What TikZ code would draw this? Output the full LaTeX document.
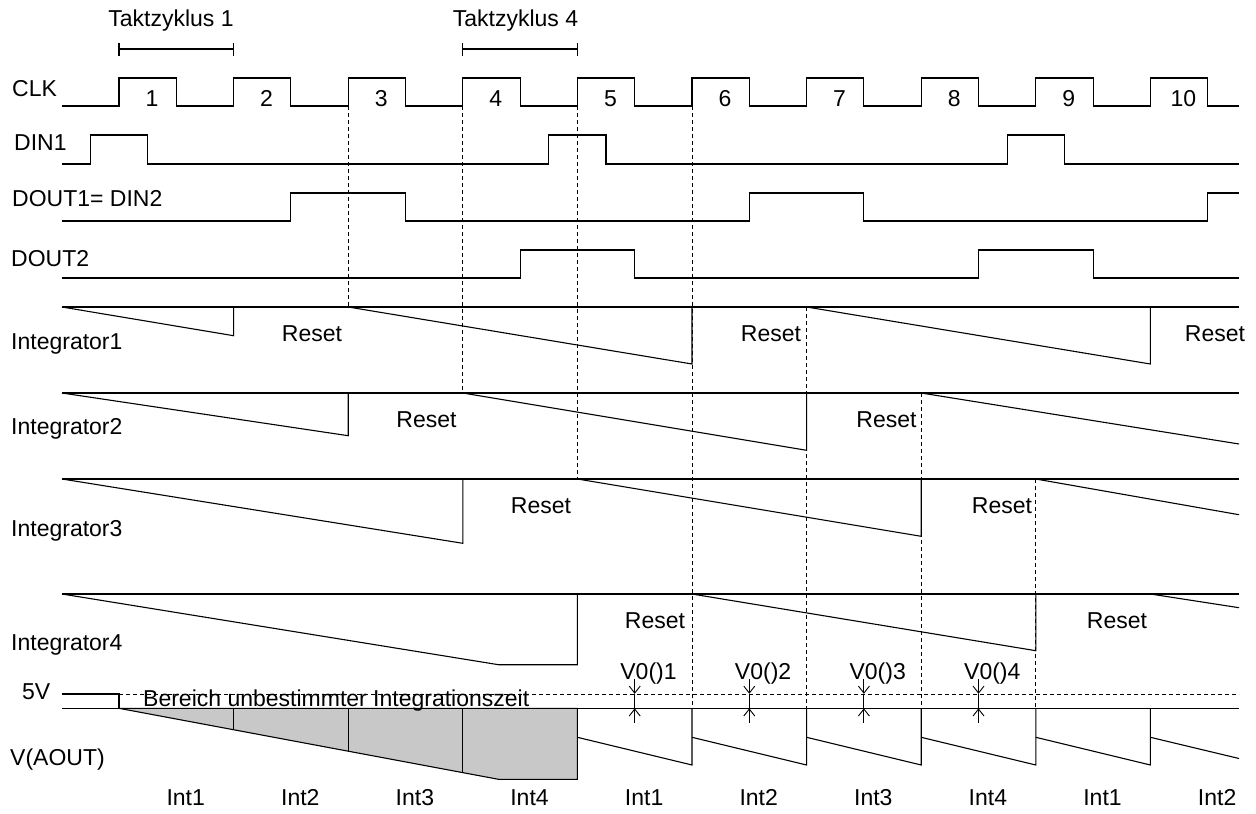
\documentclass[tikz,border=0pt]{standalone}
\usepackage{fontspec}
\setmainfont{Liberation Sans}
\usetikzlibrary{arrows.meta}
\definecolor{areagray}{RGB}{200,200,200}

\tikzset{
	txt/.style={font=\fontsize{23}{27}\selectfont, inner sep=0pt},
	sig/.style={line width=1.1pt, line join=miter},
	guide/.style={line width=0.9pt, dash pattern=on 4pt off 3pt},
	vtip/.style={line width=0.9pt, -{Straight Barb[length=7pt,width=11pt]}}
}

\begin{document}
\begin{tikzpicture}[x=1pt, y=-1pt]
	\useasboundingbox (0,0) rectangle (1256,814);
	\def\T{114.6}

	% Taktzyklen
	\node[txt, anchor=base] (tk1) at (171,26.7) {Taktzyklus 1};
	\node[txt, anchor=base] (tk4) at (515.5,26.7) {Taktzyklus 4};
	\draw[sig] (119,49) -- (233.6,49);
	\draw[sig] (119,42.5) -- (119,56);
	\draw[sig] (233.6,42.5) -- (233.6,56);
	\draw[sig] (462.8,49) -- (577.4,49);
	\draw[sig] (462.8,42.5) -- (462.8,56);
	\draw[sig] (577.4,42.5) -- (577.4,56);

	% Signalnamen
	\node[txt, anchor=base west] (lclk) at (12,96) {CLK};
	\node[txt, anchor=base west] (ldin) at (14,150) {DIN1};
	\node[txt, anchor=base west] (ldouta) at (12,206.7) {DOUT1= DIN2};
	\node[txt, anchor=base west] (ldoutb) at (11,266.7) {DOUT2};
	\node[txt, anchor=base west] (linta) at (11,349.3) {Integrator1};
	\node[txt, anchor=base west] (lintb) at (11,434.3) {Integrator2};
	\node[txt, anchor=base west] (lintc) at (11,536) {Integrator3};
	\node[txt, anchor=base west] (lintd) at (11,650) {Integrator4};
	\node[txt, anchor=base west] (lfive) at (22,699) {5V};
	\node[txt, anchor=base west] (laout) at (10,765) {V(AOUT)};

	% CLK
	\draw[sig] (62,106) \foreach \k in {0,...,9} {
		-- ({119+\T*\k},106) -- ({119+\T*\k},78) -- ({176.3+\T*\k},78) -- ({176.3+\T*\k},106)
	} -- (1239,106);
	\foreach \k in {1,...,10}
		\node[txt, anchor=base] (n\k) at ({152+\T*(\k-1)},106) {\k};

	% DIN1, DOUT1, DOUT2
	\draw[sig] (62,164) -- (90.4,164) -- (90.4,135) -- (147.6,135) -- (147.6,164)
		-- (548.8,164) -- (548.8,135) -- (606,135) -- (606,164)
		-- (1007.2,164) -- (1007.2,135) -- (1064.4,135) -- (1064.4,164) -- (1239,164);
	\draw[sig] (62,221) -- (290.9,221) -- (290.9,193) -- (405.5,193) -- (405.5,221)
		-- (749.3,221) -- (749.3,193) -- (863.9,193) -- (863.9,221)
		-- (1207.7,221) -- (1207.7,193) -- (1239,193);
	\draw[sig] (62,278) -- (520.1,278) -- (520.1,250) -- (634.7,250) -- (634.7,278)
		-- (978.5,278) -- (978.5,250) -- (1093.1,250) -- (1093.1,278) -- (1239,278);

	% Integrator1
	\draw[sig] (62,307) -- (1239,307);
	\draw[sig] (62,307) -- (233.6,335.7) -- (233.6,307);
	\draw[sig] (348.2,307) -- (692,364) -- (692,307);
	\draw[sig] (806.6,307) -- (1150.4,364) -- (1150.4,307);
	\node[txt, anchor=base] (rsa1) at (312,341.7) {Reset};
	\node[txt, anchor=base] (rsa2) at (771,341.7) {Reset};
	\node[txt, anchor=base] (rsa3) at (1215,341.7) {Reset};

	% Integrator2
	\draw[sig] (62,393) -- (1239,393);
	\draw[sig] (62,393) -- (348.2,435.7) -- (348.2,393);
	\draw[sig] (462.8,393) -- (806.6,450.3) -- (806.6,393);
	\draw[sig] (921.2,393) -- (1239,444);
	\node[txt, anchor=base] (rsb1) at (426.5,427.7) {Reset};
	\node[txt, anchor=base] (rsb2) at (886.5,427.7) {Reset};

	% Integrator3
	\draw[sig] (62,479) -- (1239,479);
	\draw[sig] (62,479) -- (462.8,543.3) -- (462.8,479);
	\draw[sig] (577.4,479) -- (921.2,536.3) -- (921.2,479);
	\draw[sig] (1035.8,479) -- (1239,514.7);
	\node[txt, anchor=base] (rsc1) at (541,513.3) {Reset};
	\node[txt, anchor=base] (rsc2) at (1002,513.3) {Reset};

	% Integrator4
	\draw[sig] (62,594) -- (1239,594);
	\draw[sig] (62,594) -- (498.5,664.7) -- (577.4,664.7) -- (577.4,594);
	\draw[sig] (692,594) -- (1035.8,650.7) -- (1035.8,594);
	\draw[sig] (1150.4,594) -- (1239,607.7);
	\node[txt, anchor=base] (rsd1) at (655,628.3) {Reset};
	\node[txt, anchor=base] (rsd2) at (1117,628.3) {Reset};

	% gestrichelte Hilfslinien
	\draw[guide] (348.2,106) -- (348.2,307);
	\draw[guide] (462.8,106) -- (462.8,393);
	\draw[guide] (577.4,106) -- (577.4,479);
	\draw[guide] (692,106) -- (692,708.3);
	\draw[guide] (806.6,307) -- (806.6,708.3);
	\draw[guide] (921.2,393) -- (921.2,708.3);
	\draw[guide] (1035.8,479) -- (1035.8,708.3);

	% V(AOUT)
	\filldraw[sig, fill=areagray] (119,708.3) -- (498.5,779.3) -- (577.4,779.3) -- (577.4,708.3) -- cycle;
	\draw[sig] (233.6,708.3) -- (233.6,729.7);
	\draw[sig] (348.2,708.3) -- (348.2,751.2);
	\draw[sig] (462.8,708.3) -- (462.8,772.6);
	\draw[sig] (62,694) -- (119,694) -- (119,708.3);
	\draw[guide] (119,694) -- (1239,694);
	\draw[sig] (62,708.3) -- (1239,708.3);
	\foreach \k in {0,...,4}
		\draw[sig] ({577.4+\T*\k},737.3) -- ({692+\T*\k},765) -- ({692+\T*\k},708.3);
	\draw[sig] (1150.4,737.3) -- (1239,758.5);
	\node[txt, anchor=base west] (area) at (143,706) {Bereich unbestimmter Integrationszeit};

	% V0()-Pfeile
	\foreach \k in {1,...,4} {
		\draw[vtip] ({634.7+\T*(\k-1)},679) -- ({634.7+\T*(\k-1)},693.8);
		\draw[vtip] ({634.7+\T*(\k-1)},722.7) -- ({634.7+\T*(\k-1)},708.3);
		\draw[line width=0.9pt] ({634.7+\T*(\k-1)},693.8) -- ({634.7+\T*(\k-1)},708.3);
		\node[txt, anchor=base] (vo\k) at ({648.5+\T*(\k-1)},679.3) {V0()\k};
	}

	% Int-Beschriftung
	\foreach \k in {1,...,10} {
		\pgfmathtruncatemacro\m{mod(\k-1,4)+1}
		\node[txt, anchor=base] (it\k) at ({185.7+\T*(\k-1)},805) {Int\m};
	}
\end{tikzpicture}
\end{document}
